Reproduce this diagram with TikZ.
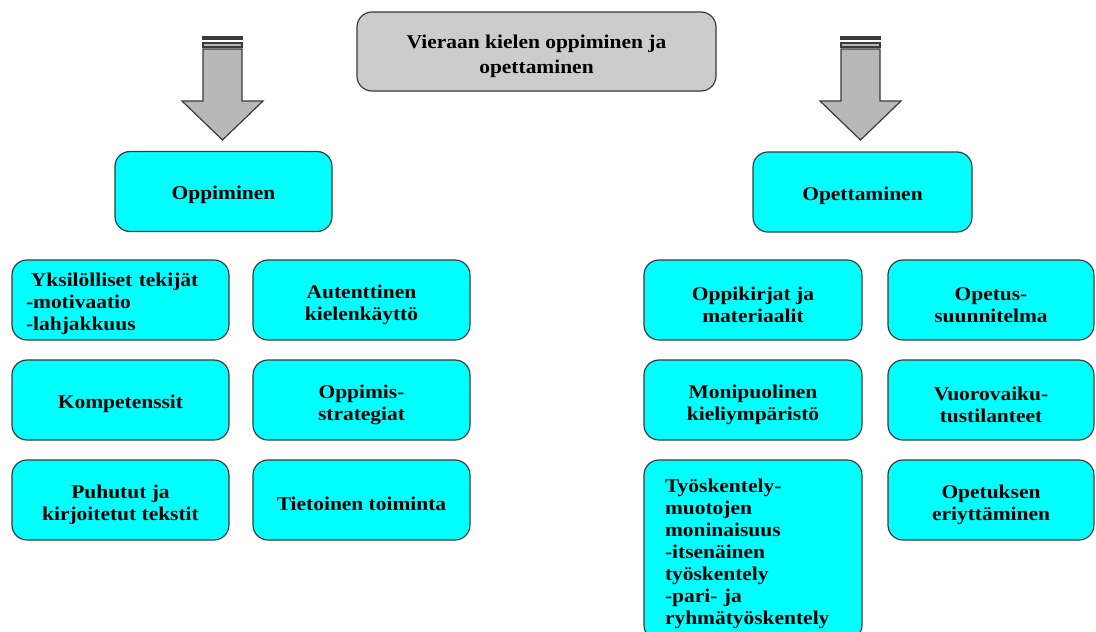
\documentclass[tikz,border=0pt]{standalone}
\usepackage{fontspec}
\setmainfont[FakeStretch=1.1]{Liberation Serif}
\definecolor{boxcyan}{HTML}{00FFFF}
\definecolor{topgray}{HTML}{CCCCCC}
\definecolor{arrowgray}{HTML}{B8B8B8}
\definecolor{edgegray}{HTML}{3A3A3A}
\newcommand{\ylos}{\rule{0pt}{23pt}}
\tikzset{
    box/.style={draw=edgegray, line width=1.2pt, fill=boxcyan, rounded corners=15pt,
        align=center, minimum width=217pt, minimum height=80pt,
        font=\bfseries\fontsize{19.5}{22}\selectfont,
        execute at begin node={\rule{0pt}{21pt}}},
    topbox/.style={box, fill=topgray, minimum width=359pt, minimum height=79pt,
        font=\bfseries\fontsize{19.5}{25}\selectfont},
    bigarrow/.style={draw=edgegray, line width=1.2pt, fill=arrowgray}
}
\begin{document}
\begin{tikzpicture}[x=1pt, y=-1pt]
    \useasboundingbox (0,0) rectangle (1096,632);
    \clip (0,0) rectangle (1096,632);

    \node[topbox] (otsikko) at (536.5,51.5) {\ylos Vieraan kielen oppiminen ja\\opettaminen};

    % the two block arrows
    \foreach \c in {222.5, 860.5}
    {
        \fill[edgegray] (\c-20.5,36) rectangle (\c+20.5,39.5);
        \draw[bigarrow] (\c-19.5,43) rectangle (\c+19.5,47);
        \draw[bigarrow] (\c-19.5,49)--(\c+19.5,49)--(\c+19.5,101)--(\c+40.5,101)
            --(\c,140)--(\c-40.5,101)--(\c-19.5,101)--cycle;
    }

    \node[box] (oppiminen) at (223.5,191.5) {Oppiminen};
    \node[box, minimum width=219pt] (opettaminen) at (862.5,192) {Opettaminen};

    % oppiminen
    \node[box, text width=189pt, inner xsep=14pt, align=left] (yksil) at (120.5,300)
        {\hspace{5pt}Yksilölliset tekijät\\-motivaatio\\-lahjakkuus};
    \node[box] (autent) at (361.5,300) {\ylos Autenttinen\\kielenkäyttö};
    \node[box] (kompet) at (120.5,400) {Kompetenssit};
    \node[box] (strat) at (361.5,400) {\ylos Oppimis-\\strategiat};
    \node[box] (puhut) at (120.5,500) {\ylos Puhutut ja\\kirjoitetut tekstit};
    \node[box] (tietoi) at (361.5,500) {Tietoinen toiminta};

    % opettaminen
    \node[box, minimum width=218pt] (oppik) at (753,300) {\ylos Oppikirjat ja\\materiaalit};
    \node[box, minimum width=206pt] (opsu) at (991,300) {\ylos Opetus-\\suunnitelma};
    \node[box, minimum width=218pt] (monip) at (753,400) {\ylos Monipuolinen\\kieliympäristö};
    \node[box, minimum width=206pt] (vuoro) at (991,400) {\ylos Vuorovaiku-\\tustilanteet};
    \node[box, text width=176pt, inner xsep=21pt, align=left, minimum height=180pt] (tyosk) at (753,550)
        {Työskentely-\\muotojen\\moninaisuus\\-itsenäinen\\työskentely\\-pari- ja\\ryhmätyöskentely};
    \node[box, minimum width=206pt] (eriyt) at (991,500) {\ylos Opetuksen\\eriyttäminen};
\end{tikzpicture}
\end{document}
